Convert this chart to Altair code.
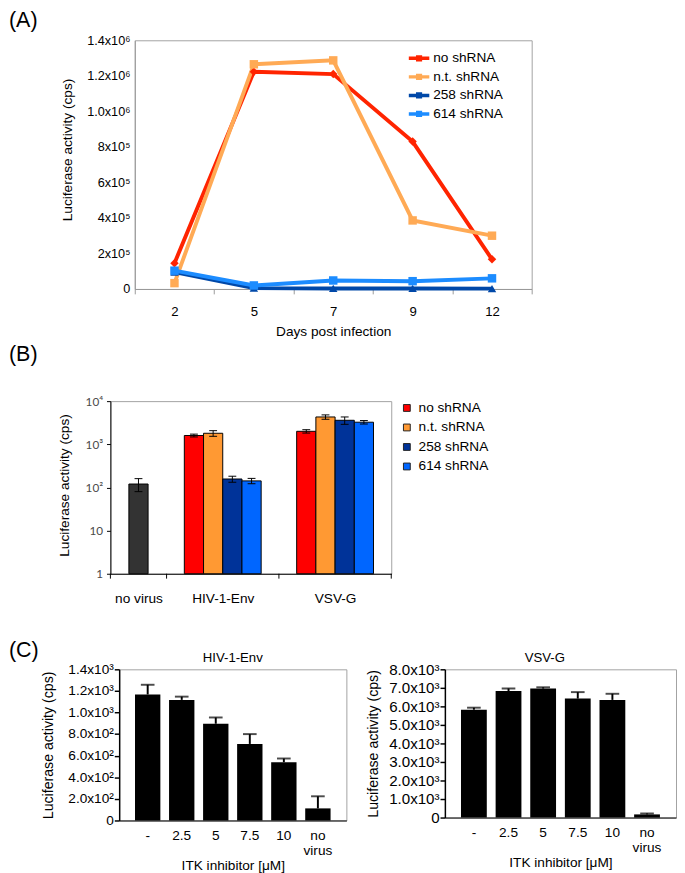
import altair as alt
import pandas as pd

FONT = "Liberation Sans"

# ---------------- Panel A data ----------------
A_DAYS = ["2", "5", "7", "9", "12"]
A_SERIES = ["no shRNA", "n.t. shRNA", "258 shRNA", "614 shRNA"]
A_NO = [145000, 1223000, 1210000, 830000, 167000]
A_NT = [33000, 1265000, 1287000, 386000, 300000]
A_258 = [95000, 5000, 3000, 3000, 2000]
A_614 = [103000, 20000, 48000, 44000, 60000]
A_COLORS = ["#FF2400", "#FFAA55", "#0048A8", "#1C8CFF"]
A_SHAPES = ["diamond", "square", "triangle-up", "square"]
A_YTICKS = [0, 200000, 400000, 600000, 800000, 1000000, 1200000, 1400000]
A_YLABELS = ["0", "2x10⁵", "4x10⁵", "6x10⁵", "8x10⁵", "1.0x10⁶", "1.2x10⁶", "1.4x10⁶"]

# ---------------- Panel B data ----------------
B_GROUPS = ["no virus", "HIV-1-Env", "VSV-G"]
B_SERIES = ["no shRNA", "n.t. shRNA", "258 shRNA", "614 shRNA"]
B_NOVIRUS = [120]
B_NOVIRUS_ERR = [40]
B_HIV = [1600, 1800, 157, 142]
B_HIV_ERR = [120, 270, 25, 20]
B_VSV = [2000, 4300, 3600, 3250]
B_VSV_ERR = [180, 500, 700, 300]
B_COLORS = ["#FF0000", "#FF9933", "#003399", "#0066FF"]
B_NOVIRUS_COLOR = "#333333"
B_YTICKS = [1, 10, 100, 1000, 10000]
B_YLABELS = ["1", "10", "10²", "10³", "10⁴"]

# ---------------- Panel C data ----------------
C_CATS = ["-", "2.5", "5", "7.5", "10", "no virus"]
C_HIV = [1167, 1117, 896, 709, 540, 112]
C_HIV_ERR = [90, 30, 58, 91, 34, 112]
C_VSV = [5820, 6830, 6960, 6420, 6350, 170]
C_VSV_ERR = [110, 140, 70, 350, 330, 50]
C_HIV_YTICKS = [0, 200, 400, 600, 800, 1000, 1200, 1400]
C_HIV_YLABELS = ["0", "2.0x10²", "4.0x10²", "6.0x10²", "8.0x10²", "1.0x10³", "1.2x10³", "1.4x10³"]
C_VSV_YTICKS = [0, 1000, 2000, 3000, 4000, 5000, 6000, 7000, 8000]
C_VSV_YLABELS = ["0", "1.0x10³", "2.0x10³", "3.0x10³", "4.0x10³", "5.0x10³", "6.0x10³", "7.0x10³", "8.0x10³"]

# ---------------- layout constants ----------------
X0 = 28          # common origin of rows (svg px)
SP_A, SP_B, SP_C = 23, 20, 2
SP_B_H = 238
ROW_SPACING = 4
C_SPACING = 18


def label_expr(values, labels):
    parts = [f"datum.value == {v} ? '{l}'" for v, l in zip(values, labels)]
    return " : ".join(parts) + " : ''"


def spacer(label, w, h, offset):
    return (
        alt.Chart(pd.DataFrame({"t": [label]}))
        .mark_text(align="left", baseline="bottom", fontSize=22, font=FONT, color="black",
                   dx=-X0, dy=-offset)
        .encode(text="t:N", x=alt.value(0), y=alt.value(0))
        .properties(width=w, height=h, view=alt.ViewBackground(stroke="transparent"))
    )


# ---------------- Panel A ----------------
recA = []
for k, (s, vals) in enumerate(zip(A_SERIES, [A_NO, A_NT, A_258, A_614])):
    for i, (d, v) in enumerate(zip(A_DAYS, vals)):
        recA.append({"day": d, "idx": i, "series": s, "sid": str(k), "value": v})
dfA = pd.DataFrame(recA)
SIDS = [str(k) for k in range(len(A_SERIES))]

A_W, A_H = 407, 255
baseA = alt.Chart(dfA).encode(
    x=alt.X("day:O", sort=A_DAYS,
            scale=alt.Scale(type="band", paddingInner=0, paddingOuter=0),
            axis=alt.Axis(title="Days post infection", labelAngle=0, tickBand="extent",
                          tickSize=5, tickColor="#999999", domainColor="#999999",
                          labelFontSize=13.5, labelPadding=11, titleFontSize=14, titlePadding=7)),
    y=alt.Y("value:Q", scale=alt.Scale(domain=[0, 1400000], nice=False),
            axis=alt.Axis(values=A_YTICKS, labelExpr=label_expr(A_YTICKS, A_YLABELS),
                          ticks=False, domainColor="#999999", labelFontSize=13,
                          labelOverlap=False, labelPadding=5,
                          title="Luciferase activity (cps)", titleFontSize=14,
                          titleX=-62, titleY=112)),
    order=alt.Order("idx:Q"),
)
linesA = baseA.mark_line(strokeWidth=4).encode(
    stroke=alt.Stroke("sid:N", scale=alt.Scale(domain=SIDS, range=A_COLORS), legend=None))
A_LEGEND_PATH = "M-1,-0.17H1V0.17H-1Z M-0.3,-0.3H0.3V0.3H-0.3Z"
pointsA = baseA.mark_point(filled=True, opacity=1, size=75).encode(
    color=alt.Color("series:N", scale=alt.Scale(domain=A_SERIES, range=A_COLORS),
                    legend=alt.Legend(title=None, orient="none", legendX=281, legendY=8,
                                      symbolType=A_LEGEND_PATH, symbolSize=441,
                                      symbolStrokeWidth=0, symbolOpacity=1,
                                      labelFontSize=14, labelFont=FONT,
                                      labelOffset=4, rowPadding=1, padding=0)),
    shape=alt.Shape("sid:N", scale=alt.Scale(domain=SIDS, range=A_SHAPES), legend=None),
)
chartA = alt.layer(linesA, pointsA).properties(
    width=A_W, height=A_H, view=alt.ViewBackground(stroke="#A0A0A0"))

# ---------------- Panel B ----------------
B_W, B_H = 288, 177
SLOT_W = [1, 2, 2]
BAR_W = 0.342
CAP = 0.07
group_vals = [(["none"], B_NOVIRUS, B_NOVIRUS_ERR), (B_SERIES, B_HIV, B_HIV_ERR), (B_SERIES, B_VSV, B_VSV_ERR)]
recB = []
centers = []
bounds = [0]
start = 0
for g, sw, (ser, vals, errs) in zip(B_GROUPS, SLOT_W, group_vals):
    c = start + sw / 2
    centers.append(c)
    n = len(vals)
    for j, (s, v, e) in enumerate(zip(ser, vals, errs)):
        x0 = c - n * BAR_W / 2 + j * BAR_W
        xc = x0 + BAR_W / 2
        recB.append({"group": g, "series": s, "value": v, "lo": v - e, "hi": v + e,
                     "x0": x0, "x1": x0 + BAR_W, "xc": xc, "cl": xc - CAP, "cr": xc + CAP})
    start += sw
    bounds.append(start)
dfB = pd.DataFrame(recB)

xsB = alt.Scale(domain=[0, sum(SLOT_W)], nice=False, zero=False)
ysB = alt.Scale(type="log", domain=[1, 10000], nice=False)
xaxB = alt.Axis(values=centers, labelExpr=label_expr(centers, B_GROUPS), ticks=False,
                domainColor="black", labelFontSize=14, labelPadding=18, title=None)
yaxB = alt.Axis(values=B_YTICKS, labelExpr=label_expr(B_YTICKS, B_YLABELS),
                tickSize=4, tickColor="black", domainColor="black",
                labelFont="Lato", labelFontSize=12, labelColor="#4a4a4a", labelPadding=4,
                labelOverlap=False,
                title="Luciferase activity (cps)", titleFontSize=14,
                titleX=-40, titleY=86)
barsB = alt.Chart(dfB).mark_bar(stroke="black", strokeWidth=1).encode(
    x=alt.X("x0:Q", scale=xsB, axis=xaxB),
    x2="x1:Q",
    y=alt.Y("value:Q", scale=ysB, axis=yaxB),
    y2=alt.datum(1),
    fill=alt.Fill("series:N",
                  scale=alt.Scale(domain=B_SERIES + ["none"], range=B_COLORS + [B_NOVIRUS_COLOR]),
                  legend=alt.Legend(values=B_SERIES, title=None, orient="none", legendX=297,
                                    legendY=0, symbolType="square", symbolSize=49,
                                    symbolStrokeColor="#222222", symbolStrokeWidth=1,
                                    labelFontSize=14, labelFont=FONT, labelOffset=5,
                                    rowPadding=6, padding=0)),
)
errB = alt.Chart(dfB).mark_rule(color="black", strokeWidth=1).encode(
    x=alt.X("xc:Q", scale=xsB, axis=xaxB), y=alt.Y("lo:Q", scale=ysB, axis=yaxB), y2="hi:Q")
capHiB = alt.Chart(dfB).mark_rule(color="black", strokeWidth=1).encode(
    x=alt.X("cl:Q", scale=xsB, axis=xaxB), x2="cr:Q", y=alt.Y("hi:Q", scale=ysB, axis=yaxB))
capLoB = alt.Chart(dfB).mark_rule(color="black", strokeWidth=1).encode(
    x=alt.X("cl:Q", scale=xsB, axis=xaxB), x2="cr:Q", y=alt.Y("lo:Q", scale=ysB, axis=yaxB))
ticksB = alt.Chart(pd.DataFrame({"b": bounds})).mark_rule(color="black", strokeWidth=1).encode(
    x=alt.X("b:Q", scale=xsB, axis=xaxB), y=alt.value(B_H), y2=alt.value(B_H + 5))
chartB = alt.layer(barsB, errB, capHiB, capLoB, ticksB).properties(
    width=B_W, height=B_H, view=alt.ViewBackground(stroke="#A0A0A0"))


# ---------------- Panel C ----------------
def c_chart(vals, errs, yticks, ylabels, ymax, title, w, h, title_dx, lab_size, title_x):
    df = pd.DataFrame({"cat": C_CATS, "value": vals, "err": errs})
    df["hi"] = df["value"] + df["err"]
    xax = alt.Axis(labelAngle=0, ticks=False, labelExpr="split(datum.label, ' ')",
                   labelFontSize=14, labelLineHeight=16, labelPadding=8,
                   domainColor="black", title="ITK inhibitor [μM]",
                   titleFontSize=14, titlePadding=1)
    yax = alt.Axis(values=yticks, labelExpr=label_expr(yticks, ylabels),
                   labelOverlap=False,
                   tickSize=5, tickColor="black", tickWidth=1.5, domainColor="black",
                   domainWidth=1.5, labelFontSize=lab_size, labelPadding=1,
                   title="Luciferase activity (cps)", titleFontSize=14.5,
                   titleX=title_x)
    xs = alt.Scale(paddingInner=0.255, paddingOuter=0.465)
    ys = alt.Scale(domain=[0, ymax], nice=False)
    xenc = alt.X("cat:N", sort=C_CATS, scale=xs, axis=xax)
    base = alt.Chart(df)
    bars = base.mark_bar(color="black").encode(
        x=xenc, y=alt.Y("value:Q", scale=ys, axis=yax))
    rule = base.mark_rule(color="black", strokeWidth=2).encode(
        x=xenc, y=alt.Y("value:Q", scale=ys, axis=yax), y2="hi:Q")
    cap = base.mark_tick(color="black", thickness=2, size=14).encode(
        x=xenc, y=alt.Y("hi:Q", scale=ys, axis=yax))
    return alt.layer(bars, rule, cap).properties(
        width=w, height=h, view=alt.ViewBackground(stroke="#A0A0A0"),
        title=alt.TitleParams(title, fontSize=13.5, fontWeight="normal", offset=0, dy=2,
                              frame="group", anchor="middle", dx=title_dx, font=FONT,
                              color="black"))


chartC1 = c_chart(C_HIV, C_HIV_ERR, C_HIV_YTICKS, C_HIV_YLABELS, 1400, "HIV-1-Env",
                  233, 155, 0, 14, -65)
chartC2 = c_chart(C_VSV, C_VSV_ERR, C_VSV_YTICKS, C_VSV_YLABELS, 8000, "VSV-G",
                  237, 152, -16, 15.5, -66)

rowA = alt.hconcat(spacer("(A)", SP_A, 1, 9), chartA, spacing=0).resolve_scale(
    color="independent", stroke="independent", shape="independent")
rowB = alt.hconcat(spacer("(B)", SP_B, SP_B_H, 36), chartB, spacing=0).resolve_scale(
    fill="independent")
rowC = alt.hconcat(spacer("(C)", SP_C, 1, 8),
                   alt.hconcat(chartC1, chartC2, spacing=C_SPACING), spacing=0)

chart = (
    alt.vconcat(rowA, rowB, rowC, spacing=ROW_SPACING)
    .resolve_scale(color="independent", fill="independent", stroke="independent",
                   shape="independent")
    .properties(padding={"top": -11, "left": 0, "right": 0, "bottom": 0}, background="white")
    .configure_view(stroke="#A0A0A0")
    .configure_axis(grid=False, labelFont=FONT, titleFont=FONT, titleFontWeight="normal",
                    titleColor="black", labelColor="black")
    .configure_title(font=FONT, fontWeight="normal", color="black")
)

chart.save("out.html", embed_options={"renderer": "svg", "actions": False})
